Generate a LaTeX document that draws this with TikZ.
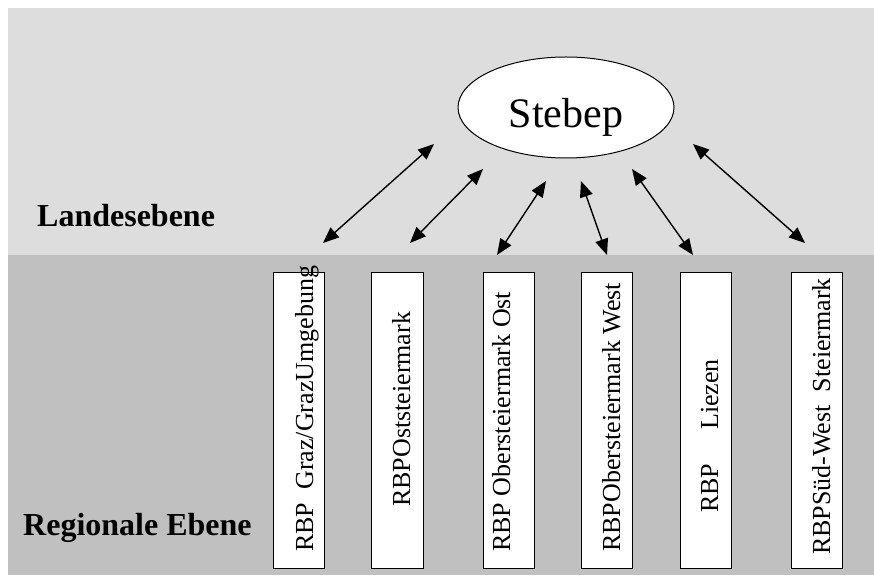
\documentclass[tikz,border=0pt]{standalone}
\usepackage{fontspec}
\setmainfont{Liberation Serif}
\usetikzlibrary{arrows.meta,shapes.geometric}
\definecolor{landgray}{RGB}{221,221,221}
\definecolor{reggray}{RGB}{192,192,192}
\begin{document}
\begin{tikzpicture}[
x=1pt, y=1pt,
rbpbox/.style={draw, fill=white, line width=1pt, minimum width=51.5pt, minimum height=296pt, inner sep=0pt},
rbptext/.style={rotate=90, anchor=base west, inner sep=0pt, font=\fontsize{26}{26}\selectfont},
level/.style={anchor=base west, inner sep=0pt, font=\fontsize{32}{32}\selectfont\bfseries},
arrow/.style={{Triangle[length=16pt,width=13pt]}-{Triangle[length=16pt,width=13pt]}, line width=1.4pt}
]
\useasboundingbox (0,0) rectangle (874,575);
% the two levels
\fill[landgray] (8,320) rectangle (874,567);
\fill[reggray] (8,0) rectangle (874,320);
\node[level] (land) at (37,348) {Landesebene};
\node[level] (region) at (23,40) {Regionale Ebene};
% state plan
\node[draw, fill=white, ellipse, line width=1pt, minimum width=216pt, minimum height=101pt, inner sep=0pt,
  text height=41pt, text depth=0pt, font=\fontsize{42}{42}\selectfont] (stebep) at (566,467.5) {Stebep};
% regional plans
\node[rbpbox] (graz) at (299.2,154.2) {};
\node[rbpbox] (ost) at (397.5,154.2) {};
\node[rbpbox] (oberost) at (509.2,154.2) {};
\node[rbpbox] (oberwest) at (607.2,154.2) {};
\node[rbpbox] (liezen) at (705.8,154.2) {};
\node[rbpbox] (suedwest) at (817.2,154.2) {};
\node[rbptext] (grazt) at (313,23) {RBP\ \ Graz/GrazUmgebung};
\node[rbptext] (ostt) at (410,68) {RBPOststeiermark};
\node[rbptext] (oberostt) at (510,23) {RBP Obersteiermark Ost};
\node[rbptext] (oberwestt) at (620,23) {RBPObersteiermark West};
\node[rbptext] (liezent) at (718,62) {RBP\hspace{1.3em}Liezen};
\node[rbptext] (suedwestt) at (830,20) {RBPSüd-West\ \ Steiermark};
% arrow ends
\coordinate (a1) at (434,431); \coordinate (b1) at (323,332);
\coordinate (a2) at (483,406); \coordinate (b2) at (410,332);
\coordinate (a3) at (546,394); \coordinate (b3) at (497,320);
\coordinate (a4) at (581,394); \coordinate (b4) at (607,320);
\coordinate (a5) at (632,406); \coordinate (b5) at (693,320);
\coordinate (a6) at (693,431); \coordinate (b6) at (805,332);
\draw[arrow] (a1) -- (b1);
\draw[arrow] (a2) -- (b2);
\draw[arrow] (a3) -- (b3);
\draw[arrow] (a4) -- (b4);
\draw[arrow] (a5) -- (b5);
\draw[arrow] (a6) -- (b6);
\end{tikzpicture}
\end{document}
